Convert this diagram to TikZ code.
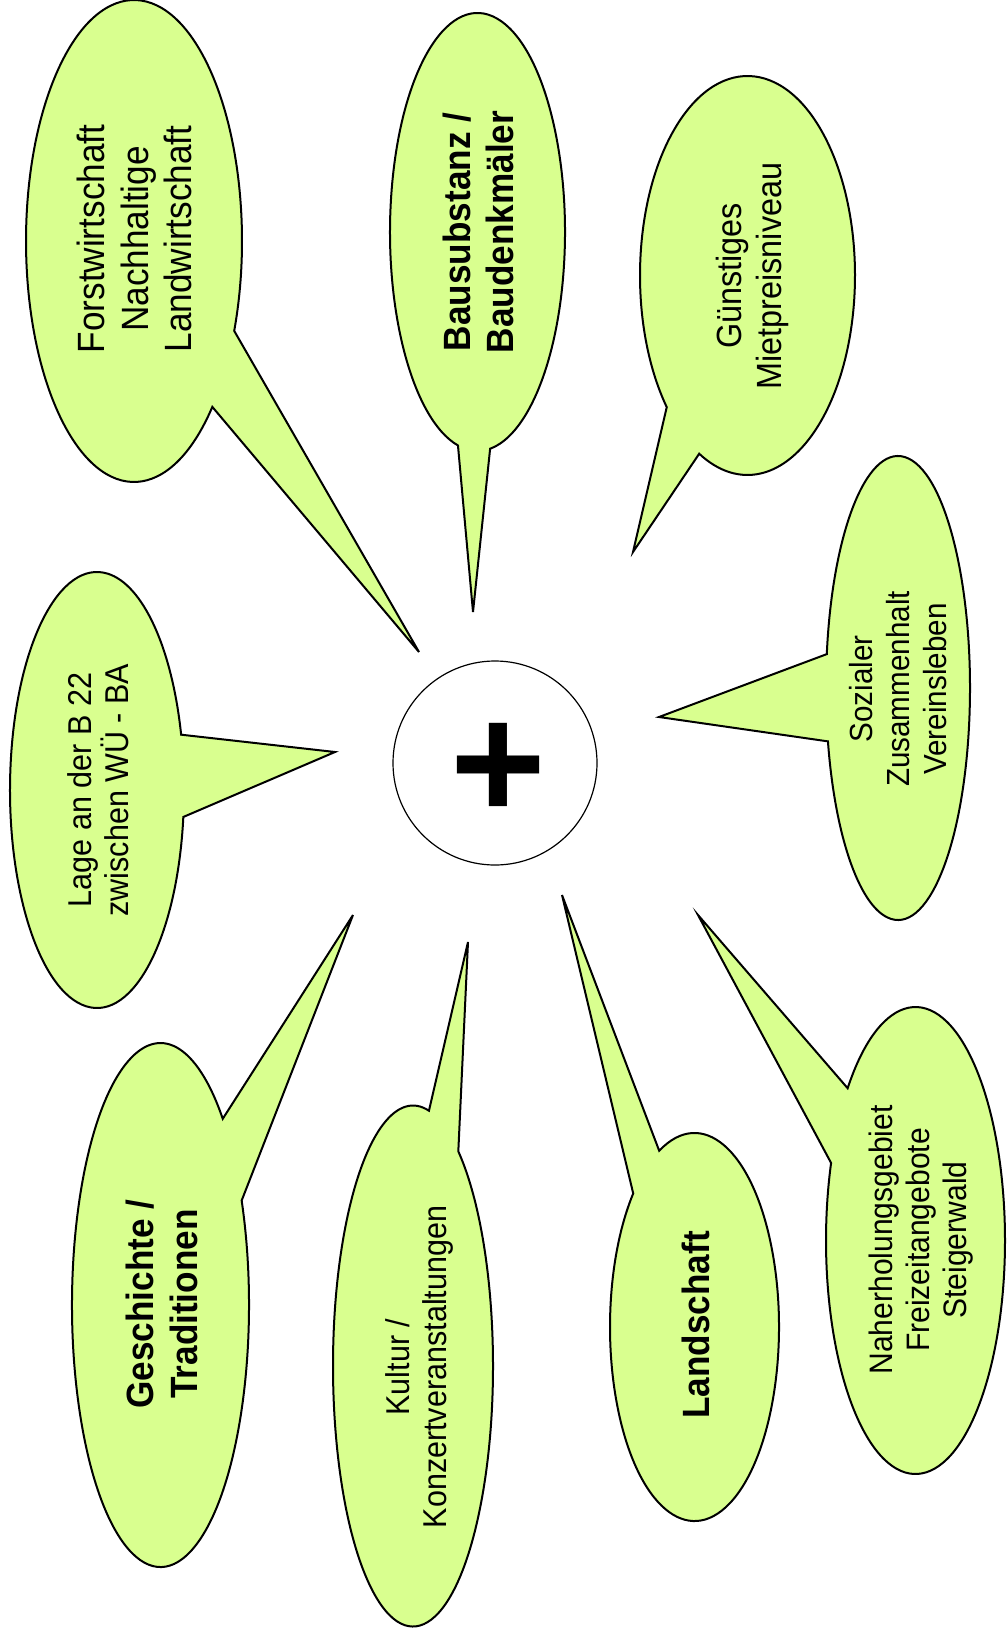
\documentclass[tikz,border=0pt]{standalone}
\usepackage{fontspec}
\setmainfont{Liberation Sans}
\definecolor{bubblegreen}{RGB}{217,255,143}
\tikzset{
  bubble/.style={fill=bubblegreen, draw=black, line width=1pt, line join=miter},
  lbl/.style={rotate=90, xscale=0.925, align=center, inner sep=0pt, text=black},
}
% cx, cy, rx, ry, start angle, end angle (long way round), tip x, tip y
\newcommand{\mycallout}[8]{%
  \draw[bubble] ({#1+#3*cos(#5)},{#2+#4*sin(#5)})
    arc[start angle=#5, end angle=#6, x radius=#3, y radius=#4]
    -- (#7,#8) -- cycle;}
\begin{document}
\begin{tikzpicture}[x=0.5pt,y=-0.5pt]
\useasboundingbox (0,0) rectangle (1006,1637);
\fill[white] (0,0) rectangle (1006,1637);

% callout bubbles
\mycallout{134}{241}{108}{241}{43.5}{381.9}{419}{652}
\mycallout{477.5}{232}{87.5}{219}{102.9}{441.7}{473}{612}
\mycallout{747.5}{275.5}{107.5}{199.5}{138.7}{476.7}{633}{552}
\mycallout{898}{688}{72}{232}{188.4}{526.7}{659}{717}
\mycallout{97}{790}{87}{218}{7.1}{345.3}{335}{752}
\mycallout{160.5}{1305}{88.5}{262}{-23.5}{314.7}{353}{915}
\mycallout{413}{1366}{80}{260.5}{-55.5}{281.5}{468}{942}
\mycallout{694.5}{1327}{84.5}{194}{245.3}{583.5}{562}{895}
\mycallout{915.5}{1240.5}{89.5}{233.5}{220.7}{559.4}{698}{915}

% centre
\node[circle, draw=black, line width=0.6pt, fill=white, minimum size=102pt, inner sep=0pt] (hub) at (495,763) {};
\node[inner sep=0pt, font=\fontsize{82}{82}\selectfont\bfseries] (plus) at (498,771) {+};

% labels
\node[lbl, font=\fontsize{19}{21.75}\selectfont] (forst) at (134.5,239) {Forstwirtschaft\\Nachhaltige\\Landwirtschaft};
\node[lbl, font=\fontsize{19}{21.5}\selectfont\bfseries] (bau) at (478,232) {Bausubstanz /\\Baudenkmäler};
\node[lbl, font=\fontsize{17.5}{20}\selectfont] (guen) at (752,276) {Günstiges\\Mietpreisniveau};
\node[lbl, font=\fontsize{16}{18.5}\selectfont] (soz) at (898.5,689) {Sozialer\\Zusammenhalt\\Vereinsleben};
\node[lbl, font=\fontsize{16.5}{18.5}\selectfont] (lage) at (98,790) {Lage an der B 22\\zwischen WÜ - BA};
\node[lbl, font=\fontsize{19}{22}\selectfont\bfseries] (gesch) at (162,1304) {Geschichte /\\Traditionen};
\node[lbl, font=\fontsize{16.5}{18.5}\selectfont] (kultur) at (419,1367) {Kultur /\\Konzertveranstaltungen};
\node[lbl, font=\fontsize{19}{22}\selectfont\bfseries] (land) at (695.5,1325) {Landschaft};
\node[lbl, font=\fontsize{16.25}{18.5}\selectfont] (naher) at (921,1240) {Naherholungsgebiet\\Freizeitangebote\\Steigerwald};
\end{tikzpicture}
\end{document}
